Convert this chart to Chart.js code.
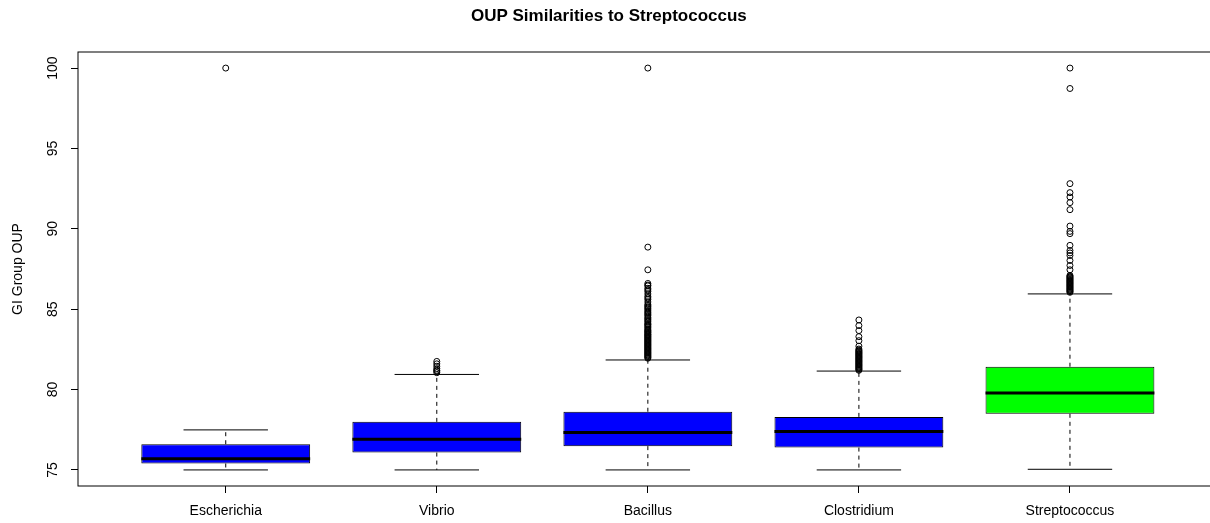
<!DOCTYPE html>
<html>
<head>
<meta charset="utf-8">
<script src="https://cdn.jsdelivr.net/npm/chart.js@4/dist/chart.umd.min.js"></script>
<style>
  html, body { margin: 0; padding: 0; background: #ffffff; overflow: hidden; }
  #wrap { width: 1296px; height: 523px; }
</style>
</head>
<body>
<div id="wrap"><canvas id="c" width="1296" height="523"></canvas></div>
<script>
// ---- data ----
const categories = ['Escherichia', 'Vibrio', 'Bacillus', 'Clostridium', 'Streptococcus'];
const lowerWhisker = [75.0, 75.0, 75.0, 75.0, 75.04];
const q1 = [75.4, 76.08, 76.48, 76.39, 78.49];
const median = [75.7, 76.91, 77.33, 77.39, 79.78];
const q3 = [76.6, 77.99, 78.62, 78.30, 81.42];
const upperWhisker = [77.49, 80.94, 81.84, 81.15, 85.95];
const outliersEscherichia = [100];
const outliersVibrio = [81.75, 81.6, 81.45, 81.3, 81.2, 81.15, 81.05];
const outliersBacillus = [100, 88.86, 87.45, 86.6, 86.5, 86.45, 86.3, 86.2, 86.1, 85.95, 85.8, 85.7,
  85.6, 85.45, 85.3, 85.22, 85.15, 85.07, 85.0, 84.9, 84.82, 84.75, 84.67, 84.6, 84.5, 84.43, 84.35,
  84.27, 84.2, 84.1, 84.05, 84.0, 83.92, 83.85, 83.77, 83.7, 83.65, 83.6, 83.55, 83.5, 83.43, 83.4,
  83.35, 83.3, 83.25, 83.2, 83.15, 83.1, 83.05, 83.0, 82.95, 82.9, 82.85, 82.8, 82.75, 82.7, 82.65,
  82.6, 82.55, 82.5, 82.45, 82.4, 82.35, 82.3, 82.25, 82.2, 82.15, 82.1, 82.05, 82.0, 81.95];
const outliersClostridium = [84.33, 83.98, 83.67, 83.29, 83.04, 82.7, 82.52, 82.45, 82.4, 82.35,
  82.3, 82.25, 82.2, 82.15, 82.1, 82.05, 82.0, 81.95, 81.9, 81.85, 81.8, 81.75, 81.7, 81.65, 81.6,
  81.55, 81.5, 81.45, 81.4, 81.35, 81.3, 81.25, 81.2];
const outliersStreptococcus = [100, 98.73, 92.81, 92.25, 91.98, 91.63, 91.19, 90.17, 89.84, 89.7,
  88.97, 88.65, 88.5, 88.34, 88.03, 87.72, 87.45, 87.1, 87.05, 87.0, 86.95, 86.9, 86.85, 86.8, 86.75,
  86.7, 86.65, 86.6, 86.55, 86.5, 86.45, 86.4, 86.35, 86.3, 86.25, 86.2, 86.15, 86.1, 86.05];
const yTicks = [75, 80, 85, 90, 95, 100];
const boxColors = ['#0000ff', '#0000ff', '#0000ff', '#0000ff', '#00ff00'];

// ---- build datasets from the arrays ----
const BOX_HALF = 0.4, STAPLE_HALF = 0.2;
const pos = categories.map((_, i) => i + 1);
const outlierLists = [outliersEscherichia, outliersVibrio, outliersBacillus, outliersClostridium, outliersStreptococcus];

const boxData = pos.map((x, i) => ({ x: x, y: [q1[i], q3[i]] }));
const medianData = [], whiskerData = [], stapleData = [], outlierData = [];
pos.forEach((x, i) => {
  medianData.push({ x: x - BOX_HALF, y: median[i] }, { x: x + BOX_HALF, y: median[i] }, { x: x + BOX_HALF, y: null });
  whiskerData.push({ x: x, y: q3[i] }, { x: x, y: upperWhisker[i] }, { x: x, y: null });
  whiskerData.push({ x: x, y: q1[i] }, { x: x, y: lowerWhisker[i] }, { x: x, y: null });
  stapleData.push({ x: x - STAPLE_HALF, y: upperWhisker[i] }, { x: x + STAPLE_HALF, y: upperWhisker[i] }, { x: x, y: null });
  stapleData.push({ x: x - STAPLE_HALF, y: lowerWhisker[i] }, { x: x + STAPLE_HALF, y: lowerWhisker[i] }, { x: x, y: null });
  outlierLists[i].forEach(v => outlierData.push({ x: x, y: v }));
});

const FONT = "'Liberation Sans', Arial, sans-serif";

const frame = {
  id: 'frame',
  afterDatasetsDraw(chart) {
    const a = chart.chartArea, ctx = chart.ctx;
    ctx.save();
    ctx.strokeStyle = '#000';
    ctx.lineWidth = 1;
    ctx.strokeRect(a.left, a.top, a.right - a.left, a.bottom - a.top);
    ctx.restore();
  }
};

new Chart(document.getElementById('c'), {
  type: 'bar',
  data: {
    datasets: [
      { type: 'line', data: whiskerData, borderColor: '#000', borderWidth: 1, borderDash: [4, 4],
        pointRadius: 0, spanGaps: false, order: 4 },
      { type: 'line', data: stapleData, borderColor: '#000', borderWidth: 1,
        pointRadius: 0, spanGaps: false, order: 3 },
      { type: 'bar', data: boxData, backgroundColor: boxColors, borderColor: '#000', borderWidth: 1,
        borderSkipped: false, barPercentage: 0.8, categoryPercentage: 1.0, order: 2 },
      { type: 'line', data: medianData, borderColor: '#000', borderWidth: 3, borderCapStyle: 'butt',
        pointRadius: 0, spanGaps: false, order: 1 },
      { type: 'scatter', data: outlierData, pointStyle: 'circle', pointRadius: 3, borderWidth: 1,
        borderColor: '#000', backgroundColor: 'rgba(0,0,0,0)', order: 0 }
    ]
  },
  options: {
    responsive: false,
    animation: false,
    devicePixelRatio: 1,
    layout: { padding: { left: 0, right: 78.3, top: 0, bottom: 0 } },
    plugins: {
      legend: { display: false },
      tooltip: { enabled: false },
      title: {
        display: true,
        text: 'OUP Similarities to Streptococcus',
        color: '#000',
        font: { family: FONT, size: 17, weight: 'bold', lineHeight: 1.2 },
        padding: { top: 6, bottom: 25.6 }
      }
    },
    scales: {
      x: {
        type: 'linear',
        min: 0.3, max: 5.7,
        offset: false,
        afterBuildTicks: s => { s.ticks = pos.map(v => ({ value: v })); },
        afterFit: s => { s.height = 37; },
        grid: { display: true, offset: false, drawOnChartArea: false, drawTicks: true, tickLength: 7, color: '#000', tickColor: '#000', lineWidth: 1 },
        border: { display: false },
        ticks: {
          autoSkip: false, maxRotation: 0, minRotation: 0, padding: 10, color: '#000',
          font: { family: FONT, size: 14 },
          callback: (v, i) => categories[i]
        }
      },
      y: {
        type: 'linear',
        min: 74, max: 101,
        afterBuildTicks: s => { s.ticks = yTicks.map(v => ({ value: v })); },
        afterFit: s => { s.width = 78; },
        grid: { display: true, drawOnChartArea: false, drawTicks: true, tickLength: 7, color: '#000', tickColor: '#000', lineWidth: 1 },
        border: { display: false },
        title: {
          display: true, text: 'GI Group OUP', color: '#000',
          font: { family: FONT, size: 14 }, padding: { top: 9.6, bottom: 0 }
        },
        ticks: {
          minRotation: 90, maxRotation: 90, crossAlign: 'center', padding: 6.3, color: '#000',
          font: { family: FONT, size: 14 },
          callback: v => String(v)
        }
      }
    }
  },
  plugins: [frame]
});
</script>
</body>
</html>
